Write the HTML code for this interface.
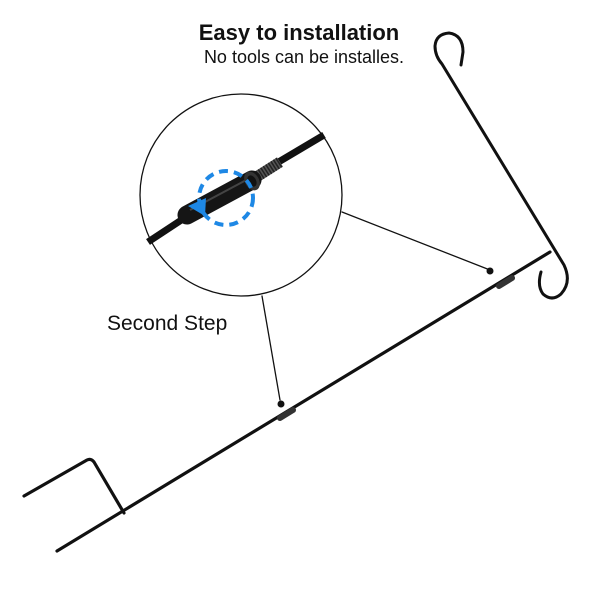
<!DOCTYPE html>
<html><head><meta charset="utf-8"><style>
html,body{margin:0;padding:0;background:#fff;}
svg{display:block}
</style></head><body>
<svg width="600" height="600" viewBox="0 0 600 600" xmlns="http://www.w3.org/2000/svg">
<rect width="600" height="600" fill="#fff"/>
<text x="299" y="40" text-anchor="middle" font-family="Liberation Sans, sans-serif" font-weight="bold" font-size="22" fill="#111">Easy to installation</text>
<text x="304" y="63" text-anchor="middle" font-family="Liberation Sans, sans-serif" font-size="18" fill="#111">No tools can be installes.</text>
<text x="107" y="330" font-family="Liberation Sans, sans-serif" font-size="21" fill="#111">Second Step</text>

<g stroke="#111" fill="none" stroke-linecap="round" stroke-linejoin="round">
<line x1="550" y1="252" x2="57" y2="551" stroke-width="3.2"/>
<path d="M24,496 L87,460 Q91,458 94,462 L124,513" stroke-width="3.2"/>
<path d="M461,65 L463,52 Q463,35 449,33 Q436,34 435,46 Q435,56 442,64 L564,265 Q572,282 561,294 Q552,302 543,294 Q537,286 541,272" stroke-width="3"/>
<circle cx="241" cy="195" r="101" stroke-width="1.3"/>
<line x1="342" y1="212" x2="490" y2="270" stroke-width="1.3"/>
<line x1="262" y1="296" x2="280" y2="400" stroke-width="1.3"/>
</g>
<circle cx="490" cy="271" r="3.5" fill="#111"/>
<circle cx="281" cy="404" r="3.5" fill="#111"/>
<line x1="499" y1="286" x2="512" y2="278" stroke="#333" stroke-width="6" stroke-linecap="round"/>
<line x1="280" y1="418" x2="293" y2="410" stroke="#333" stroke-width="6" stroke-linecap="round"/>

<line x1="148" y1="242" x2="192" y2="213" stroke="#111" stroke-width="7"/>
<line x1="260" y1="173" x2="324" y2="135" stroke="#111" stroke-width="7"/>
<line x1="258" y1="176" x2="280" y2="162" stroke="#555" stroke-width="11"/>
<line x1="258" y1="176" x2="280" y2="162" stroke="#222" stroke-width="11" stroke-dasharray="1.5 1.5"/>
<line x1="187" y1="215" x2="252" y2="180" stroke="#151515" stroke-width="19" stroke-linecap="round"/>
<line x1="190" y1="210" x2="250" y2="178" stroke="#444" stroke-width="2"/>
<ellipse cx="252" cy="181" rx="7" ry="10" transform="rotate(-30 252 181)" fill="#333"/>
<ellipse cx="252" cy="181" rx="4" ry="6" transform="rotate(-30 252 181)" fill="#111"/>
<circle cx="226" cy="198" r="27" fill="none" stroke="#1e88e5" stroke-width="4" stroke-dasharray="9 6"/>
<polygon points="188,206 206,198 205,216" fill="#1e88e5"/>
</svg>
</body></html>
